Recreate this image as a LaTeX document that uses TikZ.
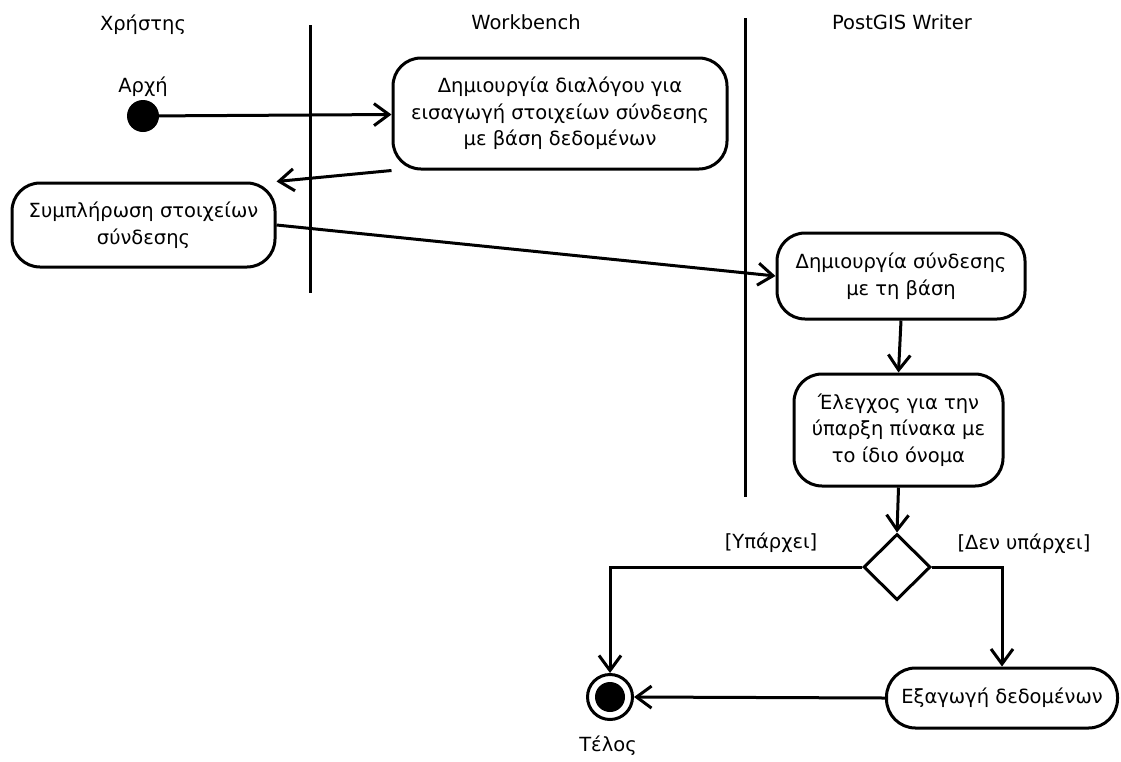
\documentclass[tikz,border=0pt]{standalone}
\usepackage{fontspec}
\setmainfont{DejaVu Sans}
\usetikzlibrary{arrows.meta,shapes.geometric}
\begin{document}
\begin{tikzpicture}[x=1pt,y=-1pt,
  txt/.style={font=\fontsize{19.5}{26.5}\selectfont,align=center,inner sep=0pt},
  act/.style={txt,draw,line width=3pt,rounded corners=28pt},
  flow/.style={line width=3pt,-{Straight Barb[length=15pt,width=22pt,line width=3pt]}},
  lane/.style={line width=3pt},
  decision/.style={draw,line width=3pt,diamond,aspect=1,minimum width=67pt,minimum height=66pt,inner sep=0pt},
]
\useasboundingbox (0,0) rectangle (1121,761);

% swimlane headers and separators
\node[txt] (hUser) at (143,25) {Χρήστης};
\node[txt] (hWb) at (526,22) {Workbench};
\node[txt] (hPg) at (902,22) {PostGIS Writer};
\coordinate (l1a) at (310,25);
\coordinate (l1b) at (310,293);
\coordinate (l2a) at (745,18);
\coordinate (l2b) at (745,497);
\draw[lane] (l1a) -- (l1b);
\draw[lane] (l2a) -- (l2b);

% start node
\node[txt] (startlbl) at (143,87) {Αρχή};
\node[circle,fill=black,minimum size=32pt,inner sep=0pt] (start) at (143,116) {};

% activities
\node[act,minimum width=334pt,minimum height=111pt] (b1) at (560,113.5)
  {Δημιουργία διαλόγου για\\εισαγωγή στοιχείων σύνδεσης\\με βάση δεδομένων};
\node[act,minimum width=263pt,minimum height=84pt] (b2) at (143.5,225)
  {Συμπλήρωση στοιχείων\\σύνδεσης};
\node[act,minimum width=248pt,minimum height=86pt] (b3) at (901,276)
  {Δημιουργία σύνδεσης\\με τη βάση};
\node[act,minimum width=209pt,minimum height=112pt] (b4) at (898.5,430)
  {Έλεγχος για την\\ύπαρξη πίνακα με\\το ίδιο όνομα};
\node[decision] (dec) at (897,567) {};
\node[act,minimum width=231pt,minimum height=60pt,rounded corners=29pt] (b5) at (1002,698)
  {Εξαγωγή δεδομένων};

% final node
\node[circle,draw,line width=3pt,minimum size=45pt,inner sep=0pt] (end) at (610,697) {};
\node[circle,fill=black,minimum size=30pt,inner sep=0pt] (endin) at (end.center) {};
\node[txt] (endlbl) at (608,746) {Τέλος};

% guards
\node[txt] (gYes) at (771,543) {[Υπάρχει]};
\node[txt] (gNo) at (1024,544) {[Δεν υπάρχει]};

% control flow
\draw[flow] (start) -- (b1);
\draw[flow] (b1.south west) -- (b2.north east);
\draw[flow] (b2.east) -- (b3.west);
\draw[flow] (b3.south) -- (b4.north);
\draw[flow] (b4.south) -- (dec.north);
\draw[flow] (dec.west) -| (end.north);
\draw[flow] (dec.east) -| (b5.north);
\draw[flow] (b5.west) -- (end.east);
\end{tikzpicture}
\end{document}
